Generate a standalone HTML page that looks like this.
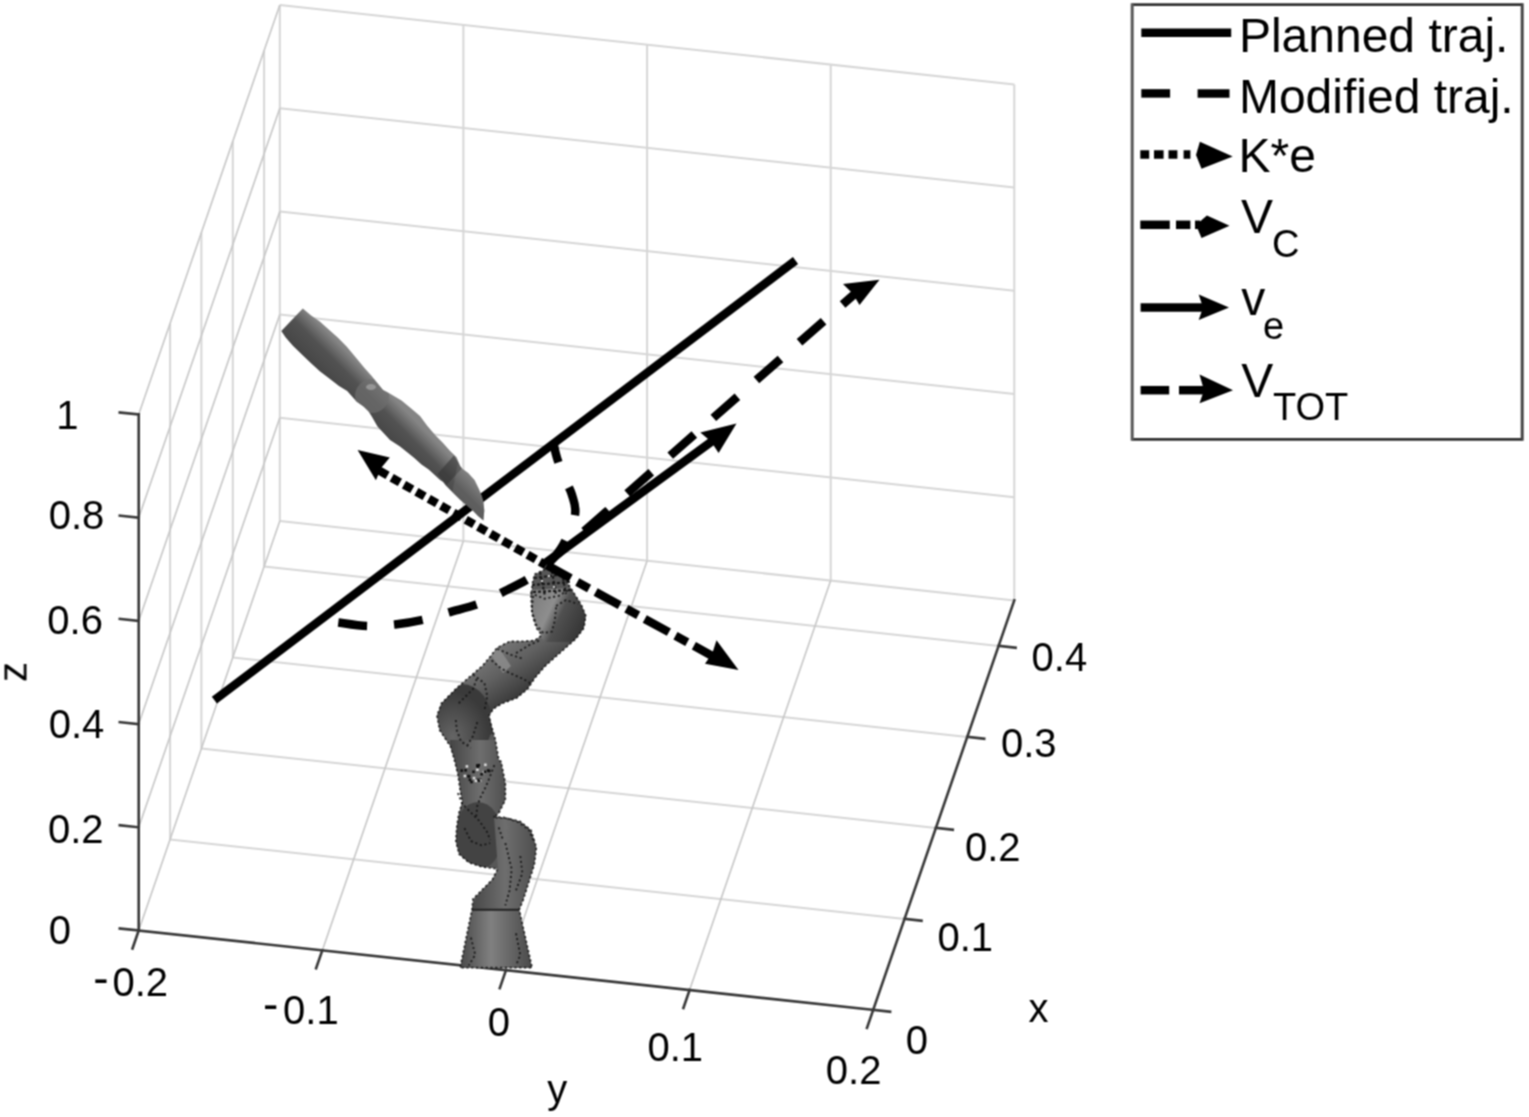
<!DOCTYPE html>
<html><head><meta charset="utf-8"><title>Plot</title>
<style>html,body{margin:0;padding:0;background:#fff;overflow:hidden;} svg{display:block;}</style>
</head><body>
<svg width="1529" height="1117" viewBox="0 0 1529 1117"><defs><linearGradient id="gf" gradientUnits="userSpaceOnUse" x1="365.3" y1="424.5" x2="392.7" y2="397.5"><stop offset="0" stop-color="#434343"/><stop offset="0.6" stop-color="#525252"/><stop offset="1" stop-color="#858585"/></linearGradient><clipPath id="fc"><polygon points="281.3,330.9 302.8,308.5 310.8,315.2 319.8,321.5 328.7,329.5 337.7,337.6 346.6,346.6 355.6,357.3 364.5,368.0 371.7,376.1 375.0,380.3 383.0,390.0 390.1,393.7 401.5,400.4 411.2,408.6 420.0,416.0 427.2,425.8 435.8,435.8 443.0,443.0 450.1,450.9 456.6,457.3 460.1,466.0 462.3,468.8 468.1,473.1 474.5,480.0 478.9,489.1 481.6,495.4 483.4,501.6 484.3,510.6 483.4,520.4 478.0,516.0 472.7,510.6 467.3,506.1 460.1,499.8 453.0,492.7 445.8,485.5 443.1,481.9 440.1,480.0 435.8,475.9 428.7,469.5 421.5,464.5 414.3,458.0 407.2,452.3 400.0,446.6 390.0,440.0 377.5,426.5 372.2,417.3 368.7,411.6 363.6,406.6 356.5,401.5 347.2,391.0 339.0,386.0 328.7,378.0 319.8,371.2 310.8,363.0 301.9,354.6 292.9,345.7 285.7,337.6"/></clipPath><clipPath id="rc"><polygon points="534.6,574.3 545.4,569.0 559.7,570.7 572.0,590.0 581.2,604.8 585.7,615.5 583.9,628.0 575.8,638.8 559.7,653.1 545.4,665.7 534.6,678.2 527.5,689.0 516.7,697.9 502.4,703.3 493.4,708.7 489.0,715.8 491.6,726.6 495.2,739.1 498.8,760.0 501.0,761.5 505.3,783.0 505.3,800.0 498.8,813.0 494.5,817.3 507.4,818.4 520.3,821.6 531.0,830.2 536.4,847.4 534.3,864.6 528.9,881.8 523.5,899.0 519.2,909.7 532.1,967.7 460.1,967.7 472.0,909.7 473.0,899.0 481.6,890.4 492.4,879.6 497.7,868.9 490.2,867.8 481.6,866.7 468.7,862.4 459.0,853.9 455.9,841.0 456.9,826.0 459.0,813.0 462.3,802.3 460.1,789.4 458.0,774.4 453.7,757.2 450.4,746.3 439.7,730.2 437.0,715.8 441.5,703.3 455.8,689.0 470.2,676.4 482.7,665.7 491.6,654.9 497.0,647.8 509.6,641.5 520.3,641.5 534.6,640.6 541.8,635.2 536.4,628.0 532.0,613.7 531.0,595.8 532.8,581.5"/></clipPath><linearGradient id="gBase" x1="0" y1="0" x2="1" y2="0"><stop offset="0" stop-color="#404040"/><stop offset="0.45" stop-color="#808080"/><stop offset="0.75" stop-color="#606060"/><stop offset="1" stop-color="#454545"/></linearGradient><linearGradient id="gL2" x1="0" y1="0" x2="1" y2="0"><stop offset="0" stop-color="#444"/><stop offset="0.5" stop-color="#6e6e6e"/><stop offset="1" stop-color="#4a4a4a"/></linearGradient><linearGradient id="gUp" gradientUnits="userSpaceOnUse" x1="495" y1="640" x2="530" y2="690"><stop offset="0" stop-color="#7c7c7c"/><stop offset="0.5" stop-color="#606060"/><stop offset="1" stop-color="#383838"/></linearGradient><radialGradient id="gJ" cx="0.35" cy="0.7" r="0.6"><stop offset="0" stop-color="#656565"/><stop offset="1" stop-color="#3a3a3a"/></radialGradient><linearGradient id="gW" gradientUnits="userSpaceOnUse" x1="532" y1="600" x2="585" y2="625"><stop offset="0" stop-color="#7e7e7e"/><stop offset="0.35" stop-color="#8e8e8e"/><stop offset="0.55" stop-color="#505050"/><stop offset="1" stop-color="#353535"/></linearGradient><filter id="soft" x="0" y="0" width="1529" height="1117" filterUnits="userSpaceOnUse" color-interpolation-filters="sRGB"><feConvolveMatrix order="3" kernelMatrix="1 2 1 2 4 2 1 2 1" divisor="16" edgeMode="duplicate"/></filter></defs><g filter="url(#soft)"><rect width="1529" height="1117" fill="#fff"/><g stroke="#d6d6d6" stroke-width="2" fill="none"><line x1="279.8" y1="521.0" x2="279.8" y2="5.0" /><line x1="463.4" y1="540.9" x2="463.4" y2="24.9" /><line x1="647.1" y1="560.7" x2="647.1" y2="44.7" /><line x1="830.7" y1="580.5" x2="830.7" y2="64.5" /><line x1="1014.3" y1="600.4" x2="1014.3" y2="84.4" /><line x1="279.8" y1="521.0" x2="1014.3" y2="600.4" /><line x1="279.8" y1="417.8" x2="1014.3" y2="497.2" /><line x1="279.8" y1="314.6" x2="1014.3" y2="394.0" /><line x1="279.8" y1="211.4" x2="1014.3" y2="290.8" /><line x1="279.8" y1="108.2" x2="1014.3" y2="187.6" /><line x1="279.8" y1="5.0" x2="1014.3" y2="84.4" /><line x1="170.1" y1="839.5" x2="170.1" y2="323.5" /><line x1="201.4" y1="748.5" x2="201.4" y2="232.5" /><line x1="232.8" y1="657.5" x2="232.8" y2="141.5" /><line x1="264.1" y1="566.5" x2="264.1" y2="50.5" /><line x1="170.1" y1="839.5" x2="904.6" y2="918.9" /><line x1="201.4" y1="748.5" x2="935.9" y2="827.9" /><line x1="232.8" y1="657.5" x2="967.3" y2="736.9" /><line x1="264.1" y1="566.5" x2="998.7" y2="645.9" /></g>
<g stroke="#c6c6c6" stroke-width="1.6" fill="none"><line x1="138.7" y1="827.3" x2="279.8" y2="417.8" /><line x1="138.7" y1="724.1" x2="279.8" y2="314.6" /><line x1="138.7" y1="620.9" x2="279.8" y2="211.4" /><line x1="138.7" y1="517.7" x2="279.8" y2="108.2" /><line x1="138.7" y1="414.5" x2="279.8" y2="5.0" /><line x1="138.7" y1="930.5" x2="279.8" y2="521.0" /><line x1="322.3" y1="950.4" x2="463.4" y2="540.9" /><line x1="506.0" y1="970.2" x2="647.1" y2="560.7" /><line x1="689.6" y1="990.0" x2="830.7" y2="580.5" /></g>
<g stroke="#383838" stroke-width="2.6" fill="none" stroke-linecap="square"><line x1="138.7" y1="930.5" x2="138.7" y2="414.5" /><line x1="138.7" y1="930.5" x2="873.2" y2="1009.9" /><line x1="873.2" y1="1009.9" x2="1014.3" y2="600.4" /><line x1="138.7" y1="930.5" x2="119.8" y2="928.5" /><line x1="138.7" y1="827.3" x2="119.8" y2="825.3" /><line x1="138.7" y1="724.1" x2="119.8" y2="722.1" /><line x1="138.7" y1="620.9" x2="119.8" y2="618.9" /><line x1="138.7" y1="517.7" x2="119.8" y2="515.7" /><line x1="138.7" y1="414.5" x2="119.8" y2="412.5" /><line x1="138.7" y1="930.5" x2="132.5" y2="948.5" /><line x1="322.3" y1="950.4" x2="316.1" y2="968.3" /><line x1="506.0" y1="970.2" x2="499.8" y2="988.2" /><line x1="689.6" y1="990.0" x2="683.4" y2="1008.0" /><line x1="873.2" y1="1009.9" x2="867.0" y2="1027.9" /><line x1="873.2" y1="1009.9" x2="890.1" y2="1011.7" /><line x1="904.6" y1="918.9" x2="921.5" y2="920.7" /><line x1="935.9" y1="827.9" x2="952.8" y2="829.7" /><line x1="967.3" y1="736.9" x2="984.2" y2="738.7" /><line x1="998.7" y1="645.9" x2="1015.6" y2="647.7" /></g>
<g font-family="'Liberation Sans', Arial, sans-serif" font-size="40" fill="#000"><text x="56.3" y="429.0">1</text><text x="48.65" y="529.2">0.8</text><text x="47.3" y="634.2">0.6</text><text x="48.65" y="738.2">0.4</text><text x="48.0" y="843.2">0.2</text><text x="48.8" y="943.5">0</text><text x="112.45" y="995.5">0.2</text><text x="283.1" y="1023.5">0.1</text><text x="487.85" y="1035.8">0</text><text x="647.4" y="1060.5">0.1</text><text x="825.85" y="1084.0">0.2</text><text x="905.7" y="1053.7">0</text><text x="937.4" y="951.4">0.1</text><text x="965.0" y="860.7">0.2</text><text x="1001.0" y="756.7">0.3</text><text x="1031.6" y="670.7">0.4</text><text x="1028.6" y="1021.6">x</text><text x="547.2" y="1102.5">y</text><text x="93.3" y="993.6" font-size="46">-</text><text x="262.95" y="1020.1" font-size="46">-</text><text transform="translate(26.5,682) rotate(-90)">z</text></g>
<polygon points="534.6,574.3 545.4,569.0 559.7,570.7 572.0,590.0 581.2,604.8 585.7,615.5 583.9,628.0 575.8,638.8 559.7,653.1 545.4,665.7 534.6,678.2 527.5,689.0 516.7,697.9 502.4,703.3 493.4,708.7 489.0,715.8 491.6,726.6 495.2,739.1 498.8,760.0 501.0,761.5 505.3,783.0 505.3,800.0 498.8,813.0 494.5,817.3 507.4,818.4 520.3,821.6 531.0,830.2 536.4,847.4 534.3,864.6 528.9,881.8 523.5,899.0 519.2,909.7 532.1,967.7 460.1,967.7 472.0,909.7 473.0,899.0 481.6,890.4 492.4,879.6 497.7,868.9 490.2,867.8 481.6,866.7 468.7,862.4 459.0,853.9 455.9,841.0 456.9,826.0 459.0,813.0 462.3,802.3 460.1,789.4 458.0,774.4 453.7,757.2 450.4,746.3 439.7,730.2 437.0,715.8 441.5,703.3 455.8,689.0 470.2,676.4 482.7,665.7 491.6,654.9 497.0,647.8 509.6,641.5 520.3,641.5 534.6,640.6 541.8,635.2 536.4,628.0 532.0,613.7 531.0,595.8 532.8,581.5" fill="#575757"/><g clip-path="url(#rc)"><polygon points="430,700 500,640 545,632 590,600 600,640 520,720 480,740" fill="url(#gUp)"/><polygon points="528,590 575,588 590,612 578,642 545,642 530,625" fill="url(#gW)"/><polygon points="489,652 497,645 511,666 503,673" fill="#8e8e8e" opacity="0.8"/><ellipse cx="462" cy="722" rx="30" ry="38" fill="url(#gJ)"/><rect x="450" y="740" width="60" height="78" fill="url(#gL2)"/><ellipse cx="478" cy="836" rx="24" ry="34" fill="#434343"/><polygon points="494,817 540,815 540,910 470,910 480,890 498,869" fill="url(#gL2)"/><rect x="455" y="909" width="80" height="60" fill="url(#gBase)"/></g><line x1="472" y1="909.7" x2="519.2" y2="909.7" stroke="#222" stroke-width="2"/><polygon points="534.6,574.3 545.4,569.0 559.7,570.7 572.0,590.0 581.2,604.8 585.7,615.5 583.9,628.0 575.8,638.8 559.7,653.1 545.4,665.7 534.6,678.2 527.5,689.0 516.7,697.9 502.4,703.3 493.4,708.7 489.0,715.8 491.6,726.6 495.2,739.1 498.8,760.0 501.0,761.5 505.3,783.0 505.3,800.0 498.8,813.0 494.5,817.3 507.4,818.4 520.3,821.6 531.0,830.2 536.4,847.4 534.3,864.6 528.9,881.8 523.5,899.0 519.2,909.7 532.1,967.7 460.1,967.7 472.0,909.7 473.0,899.0 481.6,890.4 492.4,879.6 497.7,868.9 490.2,867.8 481.6,866.7 468.7,862.4 459.0,853.9 455.9,841.0 456.9,826.0 459.0,813.0 462.3,802.3 460.1,789.4 458.0,774.4 453.7,757.2 450.4,746.3 439.7,730.2 437.0,715.8 441.5,703.3 455.8,689.0 470.2,676.4 482.7,665.7 491.6,654.9 497.0,647.8 509.6,641.5 520.3,641.5 534.6,640.6 541.8,635.2 536.4,628.0 532.0,613.7 531.0,595.8 532.8,581.5" fill="none" stroke="#151515" stroke-width="1.8" stroke-dasharray="2.2 2.6" opacity="0.85"/><g fill="none" stroke="#151515" stroke-width="1.9" stroke-dasharray="2.2 2.6" opacity="0.85"><path d="M470.9,937.6 L475.2,954.8 L468.7,965.6"/><path d="M516,933.3 L520.3,954.8 L516,965.6"/><path d="M505.3,843.1 L511.7,868.9 L509.6,890.4 L505.3,905.4"/><path d="M520.3,856 L522.4,873.2 L516,890.4"/><path d="M464.4,828.1 L470.9,841 L481.6,845.3 L490.2,843.1"/><path d="M493.4,816.7 L505.2,817.7 L518.1,822 L528.8,829.6 L533.1,840"/><path d="M498.7,827.4 L503,840"/><path d="M457.9,793 L462.2,803.8 L470.8,812.4 L479.4,821 L486.9,831.7 L490.2,840"/><path d="M494.4,765.1 L490.2,775.9 L485.9,786.6 L480.5,797.3 L477.3,805.9 L476.2,816.7"/><path d="M455.8,720 L456.9,730.7 L461.1,741.5 L470.8,747.9"/><path d="M477.3,722.1 L473,736.1 L467.6,744.7"/><path d="M473,674.6 L484.4,683.2 L487.3,696.1 L484.4,710.4"/><path d="M458.7,703.3 L473,689 L477.3,677.5"/><path d="M491.6,660.3 L501.6,668.9 L510.2,673.2 L523.1,678.9 L530.3,683.2"/><path d="M497.3,648.8 L510.2,654.6 L523.1,658.9"/><path d="M516,653.1 L530.3,644.5 L540.3,640.2"/><path d="M533.2,595.8 L531.7,610.1 L536,624.5 L543.2,633.1 L551.8,631.6 L554.6,621.6 L556.1,607.3"/><path d="M530.3,593 L544.6,598.7 L558.9,595.8 L570.4,588.7"/><path d="M556,606 L566,600 L578,604"/></g><g clip-path="url(#rc)"><rect x="463.6" y="774.7" width="2.6" height="2.6" fill="#ddd"/><rect x="467.8" y="775.1" width="2.6" height="2.6" fill="#111"/><rect x="476.0" y="764.2" width="2.6" height="2.6" fill="#111"/><rect x="456.4" y="781.0" width="2.6" height="2.6" fill="#ddd"/><rect x="464.3" y="769.0" width="2.6" height="2.6" fill="#111"/><rect x="487.9" y="769.7" width="2.6" height="2.6" fill="#111"/><rect x="482.8" y="770.6" width="2.6" height="2.6" fill="#ddd"/><rect x="476.5" y="765.6" width="2.6" height="2.6" fill="#111"/><rect x="476.3" y="778.6" width="2.6" height="2.6" fill="#111"/><rect x="472.7" y="776.8" width="2.6" height="2.6" fill="#ddd"/><rect x="477.5" y="763.9" width="2.6" height="2.6" fill="#111"/><rect x="480.3" y="773.0" width="2.6" height="2.6" fill="#111"/><rect x="465.6" y="765.1" width="2.6" height="2.6" fill="#ddd"/><rect x="483.7" y="770.4" width="2.6" height="2.6" fill="#111"/><rect x="479.0" y="778.4" width="2.6" height="2.6" fill="#111"/><rect x="478.9" y="779.2" width="2.6" height="2.6" fill="#ddd"/><rect x="468.6" y="778.5" width="2.6" height="2.6" fill="#111"/><rect x="470.2" y="780.7" width="2.6" height="2.6" fill="#111"/><rect x="484.1" y="763.5" width="2.6" height="2.6" fill="#ddd"/><rect x="460.4" y="769.3" width="2.6" height="2.6" fill="#111"/><rect x="486.9" y="769.2" width="2.6" height="2.6" fill="#111"/><rect x="476.1" y="768.4" width="2.6" height="2.6" fill="#ddd"/><rect x="472.2" y="770.5" width="2.6" height="2.6" fill="#111"/><rect x="467.2" y="774.8" width="2.6" height="2.6" fill="#111"/><rect x="474.7" y="779.5" width="2.6" height="2.6" fill="#ddd"/><rect x="477.8" y="779.4" width="2.6" height="2.6" fill="#111"/></g><g fill="none" stroke="#1a1a1a" stroke-width="2.2" stroke-dasharray="3 2"><path d="M534,578 L566,574"/><path d="M532,585 L570,582"/><path d="M533,592 L572,590"/><path d="M540,572 L545,596"/><path d="M552,571 L556,595"/><path d="M562,573 L566,594"/></g><g fill="#ccc"><rect x="541" y="580" width="2" height="2"/><rect x="553" y="586" width="2" height="2"/><rect x="548" y="575" width="2" height="2"/></g>
<g><line x1="214.4" y1="700.2" x2="795.5" y2="260.5" stroke="#000" stroke-width="8.5"/><path d="M338.3,622.5 C343.1,623.1 357.6,625.7 367.0,626.0 C376.4,626.3 385.7,625.5 395.0,624.5 C404.3,623.5 414.0,621.8 423.0,619.8 C432.0,617.8 439.7,615.0 449.0,612.3 C458.3,609.6 470.0,607.1 479.0,603.7 C488.0,600.3 494.8,596.1 503.0,592.0 C511.2,587.9 520.8,583.3 528.0,579.0 C535.2,574.7 540.2,571.7 546.0,566.0 C551.8,560.3 558.2,553.5 563.0,545.0 C567.8,536.5 573.5,523.3 575.0,515.0 C576.5,506.7 573.8,501.3 572.0,495.0 C570.2,488.7 566.5,483.2 564.0,477.0 C561.5,470.8 558.8,463.6 557.0,458.0 C555.2,452.4 554.1,445.9 553.5,443.5" fill="none" stroke="#000" stroke-width="8.5" stroke-dasharray="29 27"/><line x1="546.2" y1="562.4" x2="712.0" y2="441.2" stroke="#000" stroke-width="8.5"/><polygon points="736.5,423.4 700.3,432.5 711.1,441.6 718.6,453.1" fill="#000"/><line x1="546.2" y1="564.4" x2="858.0" y2="291.0" stroke="#000" stroke-width="8.5" stroke-dasharray="32 25.3" stroke-dashoffset="6.9"/><polygon points="879.5,279.7 843.0,284.0 852.9,293.7 859.5,305.1" fill="#000"/><line x1="546.2" y1="565.3" x2="379.0" y2="470.5" stroke="#000" stroke-width="8.5" stroke-dasharray="9.5 4.7" stroke-dashoffset="2.25"/><polygon points="357.6,450.1 389.8,457.6 381.3,467.8 375.9,480.2" fill="#000"/><line x1="546.2" y1="564.9" x2="715.0" y2="657.4" stroke="#000" stroke-width="8.5" stroke-dasharray="27.5 7.5 13.5 7.5" stroke-dashoffset="-0.4"/><polygon points="738.5,670.0 716.5,640.2 712.4,653.1 705.0,663.8" fill="#000"/></g>
<polygon points="281.3,330.9 302.8,308.5 310.8,315.2 319.8,321.5 328.7,329.5 337.7,337.6 346.6,346.6 355.6,357.3 364.5,368.0 371.7,376.1 375.0,380.3 383.0,390.0 390.1,393.7 401.5,400.4 411.2,408.6 420.0,416.0 427.2,425.8 435.8,435.8 443.0,443.0 450.1,450.9 456.6,457.3 460.1,466.0 462.3,468.8 468.1,473.1 474.5,480.0 478.9,489.1 481.6,495.4 483.4,501.6 484.3,510.6 483.4,520.4 478.0,516.0 472.7,510.6 467.3,506.1 460.1,499.8 453.0,492.7 445.8,485.5 443.1,481.9 440.1,480.0 435.8,475.9 428.7,469.5 421.5,464.5 414.3,458.0 407.2,452.3 400.0,446.6 390.0,440.0 377.5,426.5 372.2,417.3 368.7,411.6 363.6,406.6 356.5,401.5 347.2,391.0 339.0,386.0 328.7,378.0 319.8,371.2 310.8,363.0 301.9,354.6 292.9,345.7 285.7,337.6" fill="url(#gf)"/><g clip-path="url(#fc)"><ellipse cx="372" cy="396" rx="17" ry="17" fill="#6e6e6e" opacity="0.7"/><ellipse cx="371" cy="387" rx="5" ry="3" fill="#a0a0a0" opacity="0.8"/><polygon points="453.9,455.5 462,468.5 446.5,485 437.5,474" fill="#333" opacity="0.6"/><polygon points="458,462 490,495 490,530 470,512 452,494" fill="#777" opacity="0.35"/></g>
<rect x="1132.2" y="4.6" width="390" height="434.8" fill="#fff"/><path d="M1132.2,4.6 H1522.2 M1132.2,439.4 H1522.2" stroke="#303030" stroke-width="2.6" fill="none"/><path d="M1522.2,3.3 V440.7" stroke="#444" stroke-width="3" fill="none"/><path d="M1132.2,3.3 V440.7" stroke="#585858" stroke-width="3" fill="none"/><line x1="1141.3" y1="32.8" x2="1231.2" y2="32.8" stroke="#000" stroke-width="8.5"/><line x1="1141.3" y1="93.4" x2="1170.1" y2="93.4" stroke="#000" stroke-width="8.5"/><line x1="1197.6" y1="93.4" x2="1229.5" y2="93.4" stroke="#000" stroke-width="8.5"/><line x1="1140.3" y1="154.5" x2="1149.2" y2="154.5" stroke="#000" stroke-width="8.5"/><line x1="1154" y1="154.5" x2="1163.6" y2="154.5" stroke="#000" stroke-width="8.5"/><line x1="1168.5" y1="154.5" x2="1177.4" y2="154.5" stroke="#000" stroke-width="8.5"/><line x1="1183.6" y1="154.5" x2="1190.4" y2="154.5" stroke="#000" stroke-width="8.5"/><polygon points="1232.7,156.5 1199.9,141.8 1196,155 1201.5,168.7" fill="#000"/><line x1="1140.3" y1="224.8" x2="1169.8" y2="224.8" stroke="#000" stroke-width="8.5"/><line x1="1176" y1="224.8" x2="1190.4" y2="224.8" stroke="#000" stroke-width="8.5"/><line x1="1195" y1="224.8" x2="1200" y2="224.8" stroke="#000" stroke-width="8.5"/><polygon points="1229.5,225.7 1206.9,215.5 1196,225 1201.5,238" fill="#000"/><line x1="1140.6" y1="307.6" x2="1205" y2="307.6" stroke="#000" stroke-width="8.5"/><polygon points="1229,307.6 1198.7,294.5 1203,307.6 1198.7,319.9" fill="#000"/><line x1="1140.6" y1="390.2" x2="1169.2" y2="390.2" stroke="#000" stroke-width="8.5"/><line x1="1179" y1="390.2" x2="1205" y2="390.2" stroke="#000" stroke-width="8.5"/><polygon points="1233,390.2 1199.5,374.6 1204,390.2 1199.5,403.3" fill="#000"/><g font-family="'Liberation Sans', Arial, sans-serif" font-size="48" fill="#000"><text x="1238.9" y="51.5">Planned traj.</text><text x="1238.9" y="112.6">Modified traj.</text><text x="1238.6" y="171.9">K*e</text><text x="1241" y="233">V<tspan x="1272" y="256.8" font-size="38">C</tspan></text><text x="1241.2" y="315">v<tspan x="1262.9" y="338.5" font-size="38">e</tspan></text><text x="1241.2" y="396.7">V<tspan x="1272.9" y="419.6" font-size="38">TOT</tspan></text></g></g></svg>
</body></html>
